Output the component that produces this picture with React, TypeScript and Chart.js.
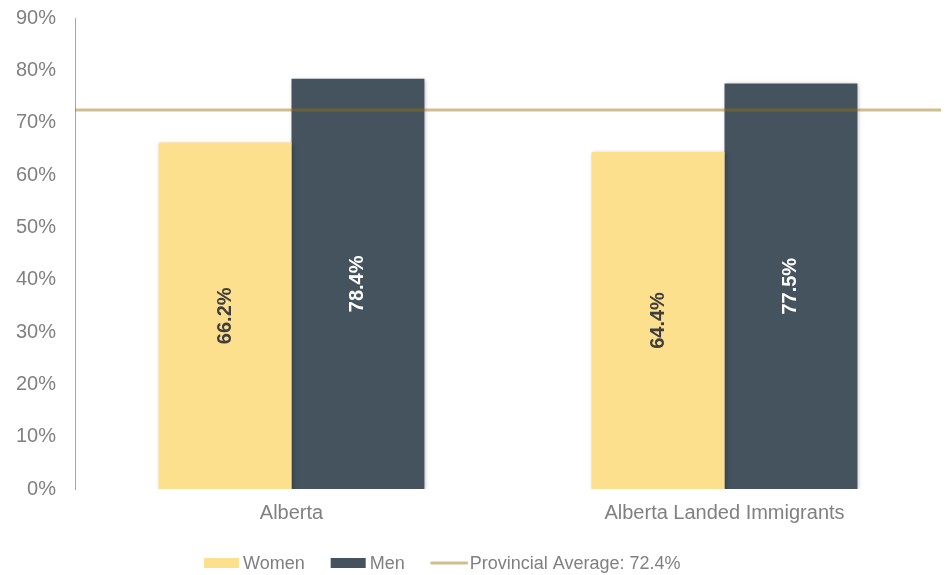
import React, { useEffect, useRef } from "react";
import { Chart, registerables } from "chart.js";

Chart.register(...registerables);

const categories = ["Alberta", "Alberta Landed Immigrants"];
const womenValues = [66.2, 64.4];
const menValues = [78.4, 77.5];
const provincialAverage = 72.4;
const yTicks = [0, 10, 20, 30, 40, 50, 60, 70, 80, 90];
const seriesNames = ["Women", "Men", "Provincial Average: 72.4%"];

const FONT = "'Liberation Sans', Arial, sans-serif";
const WOMEN_COLOR = "#FDE08E";
const MEN_COLOR = "#44535E";
const LINE_COLOR = "rgba(149,113,7,0.45)";
const LEGEND_LINE_COLOR = "#CFBF8F";
const TEXT_GRAY = "#808080";

const shadowPlugin = {
  id: "barShadow",
  beforeDatasetDraw(chart: any) {
    const ctx = chart.ctx;
    ctx.save();
    ctx.shadowColor = "rgba(0,0,0,0.28)";
    ctx.shadowBlur = 4;
    ctx.shadowOffsetX = 1;
    ctx.shadowOffsetY = 1;
  },
  afterDatasetDraw(chart: any) {
    chart.ctx.restore();
  },
};

const averageLinePlugin = {
  id: "averageLine",
  afterDatasetsDraw(chart: any) {
    const ctx = chart.ctx;
    const { left, right } = chart.chartArea;
    const y = chart.scales.y.getPixelForValue(provincialAverage);
    ctx.save();
    ctx.strokeStyle = LINE_COLOR;
    ctx.lineWidth = 3;
    ctx.beginPath();
    ctx.moveTo(left, y);
    ctx.lineTo(right, y);
    ctx.stroke();
    ctx.restore();
  },
};

const labelPlugin = {
  id: "barLabels",
  afterDatasetsDraw(chart: any) {
    const ctx = chart.ctx;
    chart.data.datasets.forEach((ds: any, i: number) => {
      const meta = chart.getDatasetMeta(i);
      meta.data.forEach((el: any, j: number) => {
        const v = ds.data[j];
        const cy = (el.y + el.base) / 2;
        ctx.save();
        ctx.translate(el.x, cy);
        ctx.rotate(-Math.PI / 2);
        ctx.font = `bold 20px ${FONT}`;
        ctx.fillStyle = ds.labelColor;
        ctx.textAlign = "center";
        ctx.textBaseline = "middle";
        ctx.fillText(v.toFixed(1) + "%", 0, 0);
        ctx.restore();
      });
    });
  },
};

const legendPlugin = {
  id: "customLegend",
  afterDraw(chart: any) {
    const ctx = chart.ctx;
    ctx.save();
    ctx.font = `18px ${FONT}`;
    ctx.textBaseline = "middle";
    ctx.textAlign = "left";
    let x = 204;
    const y = 563;
    const items = [
      { label: seriesNames[0], color: WOMEN_COLOR, kind: "box" },
      { label: seriesNames[1], color: MEN_COLOR, kind: "box" },
      { label: seriesNames[2], color: LEGEND_LINE_COLOR, kind: "line" },
    ];
    items.forEach((it) => {
      if (it.kind === "box") {
        ctx.fillStyle = it.color;
        ctx.fillRect(x, y - 5, 35, 10);
      } else {
        ctx.strokeStyle = it.color;
        ctx.lineWidth = 3;
        ctx.lineCap = "round";
        ctx.beginPath();
        ctx.moveTo(x + 1, y);
        ctx.lineTo(x + 36, y);
        ctx.stroke();
      }
      x += 39;
      ctx.fillStyle = TEXT_GRAY;
      ctx.fillText(it.label, x, y + 1);
      x += ctx.measureText(it.label).width + 26;
    });
    ctx.restore();
  },
};

export default function App() {
  const ref = useRef<HTMLCanvasElement>(null);

  useEffect(() => {
    document.body.style.margin = "0";
    const canvas = ref.current!;
    const chart = new Chart(canvas, {
      type: "bar",
      data: {
        labels: categories,
        datasets: [
          {
            label: seriesNames[0],
            data: womenValues,
            backgroundColor: WOMEN_COLOR,
            labelColor: "#3F3F3F",
            categoryPercentage: 0.614,
            barPercentage: 1,
          } as any,
          {
            label: seriesNames[1],
            data: menValues,
            backgroundColor: MEN_COLOR,
            labelColor: "#FFFFFF",
            categoryPercentage: 0.614,
            barPercentage: 1,
          } as any,
        ],
      },
      options: {
        animation: false,
        responsive: false,
        maintainAspectRatio: false,
        layout: { padding: { top: 18, right: 7, left: 0, bottom: 0 } },
        plugins: {
          legend: { display: false },
          tooltip: { enabled: false },
        },
        scales: {
          x: {
            type: "category",
            grid: { display: false, drawTicks: false },
            border: { display: false },
            ticks: {
              color: TEXT_GRAY,
              font: { family: FONT, size: 20 },
              padding: 12,
            },
            afterFit(scale: any) {
              scale.height = 86;
            },
          },
          y: {
            min: yTicks[0],
            max: yTicks[yTicks.length - 1],
            afterBuildTicks(scale: any) {
              scale.ticks = yTicks.map((v) => ({ value: v }));
            },
            grid: { display: false, drawTicks: false },
            border: { display: true, color: "#A6A6A6", width: 1 },
            ticks: {
              color: TEXT_GRAY,
              font: { family: FONT, size: 20 },
              padding: 19,
              callback: (v: any) => v + "%",
            },
            afterFit(scale: any) {
              scale.width = 75;
              scale.paddingTop = 0;
              scale.paddingBottom = 0;
            },
          },
        },
      } as any,
      plugins: [shadowPlugin, averageLinePlugin, labelPlugin, legendPlugin],
    });
    return () => chart.destroy();
  }, []);

  return (
    <div style={{ width: 948, height: 575 }}>
      <canvas ref={ref} width={948} height={575} style={{ display: "block" }} />
    </div>
  );
}
